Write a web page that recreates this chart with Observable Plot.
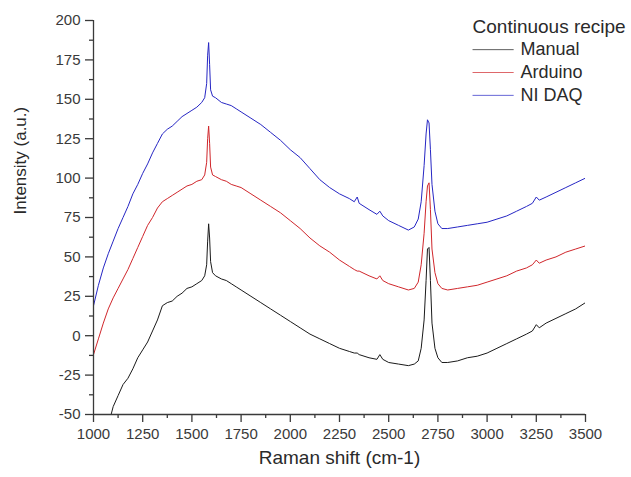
<!DOCTYPE html>
<html><head><meta charset="utf-8">
<script src="https://cdn.jsdelivr.net/npm/d3@7"></script>
<script src="https://cdn.jsdelivr.net/npm/@observablehq/plot@0.6"></script>
<style>body{margin:0;background:#fff;} #chart{width:631px;height:477px;}</style>
</head><body><div id="chart"></div>
<script>
const wavenumber = [1000,1025,1050,1075,1100,1125,1150,1175,1200,1225,1250,1275,1300,1325,1350,1375,1400,1425,1450,1475,1500,1525,1550,1565,1575,1580,1585,1590,1595,1605,1620,1650,1675,1700,1725,1750,1800,1850,1900,1950,2000,2050,2100,2150,2200,2250,2300,2325,2340,2350,2400,2440,2455,2470,2500,2550,2600,2630,2650,2665,2680,2690,2697,2705,2712,2720,2735,2750,2770,2800,2850,2900,2950,3000,3050,3100,3150,3200,3230,3250,3265,3300,3350,3400,3450,3500];
const manual = [null,null,null,-57,-45,-38,-31,-27,-21,-14,-9,-4,3,10,19,21,22,25,27,30,31,33,35,38,45,60,71,62,47,40,38,36,35,33,31,29,25,21,17,13,9,5,1,-2,-5,-8,-10,-11,-11,-12,-14,-15,-12,-15,-17,-18,-19,-18,-16,-8,10,35,55,56,35,8,-8,-14,-17,-17,-16,-14,-13,-11,-8,-5,-2,1,3,7,5,8,11,14,17,21];
const arduino = [-12,-2,8,17,24,30,36,42,49,56,63,70,75,81,85,87,89,91,93,95,96,98,99,102,110,125,133,122,107,102,101,99,98,96,95,94,90,86,82,78,73,68,62,57,53,48,44,42,41,41,38,36,38,35,33,31,29,30,34,45,65,85,95,97,80,55,40,33,30,29,30,31,32,34,36,38,41,43,45,48,46,48,50,53,55,57];
const nidaq = [19,32,43,52,60,68,75,82,90,96,103,109,116,122,128,131,133,136,139,141,143,145,148,151,160,178,186,172,156,152,151,148,147,146,144,142,138,134,129,124,118,113,106,99,94,90,87,85,88,84,80,77,79,76,73,70,67,69,74,85,108,128,137,135,118,96,79,71,68,68,69,70,71,72,74,76,79,82,84,88,86,88,91,94,97,100];
const seriesNames = ["Manual","Arduino","NI DAQ"];
const seriesColors = ["#1a1a1a","#d0262b","#2626c4"];
const xTicks = [1000,1250,1500,1750,2000,2250,2500,2750,3000,3250,3500];
const yTicks = [-50,-25,0,25,50,75,100,125,150,175,200];
const legendTitle = "Continuous recipe";
const xLabel = "Raman shift (cm-1)";
const yLabel = "Intensity (a.u.)";

const seriesValues = [manual, arduino, nidaq];
const rows = seriesValues.flatMap((vals, i) => vals.map((v, j) => ({x: wavenumber[j], y: v, series: seriesNames[i]})));
const xMinor = xTicks.slice(0,-1).map(t => t + 125);
const yMinor = yTicks.slice(0,-1).map(t => t + 12.5);

// legend rows placed in data coordinates
const legendRows = seriesNames.map((s, i) => ({series: s, y: 181.5 - i * 14.5}));

const font = "Liberation Sans, Arial, sans-serif";
const fmt = d => String(d);
const chart = Plot.plot({
  width: 631, height: 477,
  marginLeft: 93, marginRight: 46, marginTop: 20, marginBottom: 63,
  style: {fontFamily: font, background: "#fff"},
  x: {domain: [1000, 3500]},
  y: {domain: [-50, 200]},
  color: {domain: seriesNames, range: seriesColors},
  marks: [
    Plot.line(rows, {x: "x", y: "y", z: "series", stroke: "series", strokeWidth: 1, clip: true}),
    Plot.ruleY([-50], {stroke: "#3a3a3a", strokeWidth: 1.3}),
    Plot.ruleX([1000], {stroke: "#3a3a3a", strokeWidth: 1.3}),
    Plot.axisX(xTicks, {tickSize: 8, tickPadding: 6, fontSize: 15, fill: "#3a3a3a", stroke: "#3a3a3a", strokeWidth: 1.3, tickFormat: fmt, label: null}),
    Plot.axisX(xMinor, {tickSize: 4, tickFormat: () => "", stroke: "#3a3a3a", strokeWidth: 1.3, label: null}),
    Plot.axisY(yTicks, {tickSize: 8, tickPadding: 5, fontSize: 15, fill: "#3a3a3a", stroke: "#3a3a3a", strokeWidth: 1.3, tickFormat: fmt, label: null}),
    Plot.axisY(yMinor, {tickSize: 4, tickFormat: () => "", stroke: "#3a3a3a", strokeWidth: 1.3, label: null}),
    Plot.text([xLabel], {frameAnchor: "bottom", dy: 49, fontSize: 19, fill: "#2a2a2a"}),
    Plot.text([yLabel], {frameAnchor: "left", dx: -73, dy: -3, rotate: -90, fontSize: 17, fill: "#2a2a2a"}),
    Plot.text([legendTitle], {x: 2926, y: 196, textAnchor: "start", fontSize: 19, fill: "#2a2a2a"}),
    Plot.link(legendRows, {x1: 2926, x2: 3135, y1: "y", y2: "y", stroke: "series", strokeWidth: 1, strokeOpacity: 0.7}),
    Plot.text(legendRows, {x: 3170, y: "y", text: "series", textAnchor: "start", fontSize: 18, fill: "#2a2a2a"})
  ]
});
document.getElementById("chart").append(chart);
</script></body></html>
